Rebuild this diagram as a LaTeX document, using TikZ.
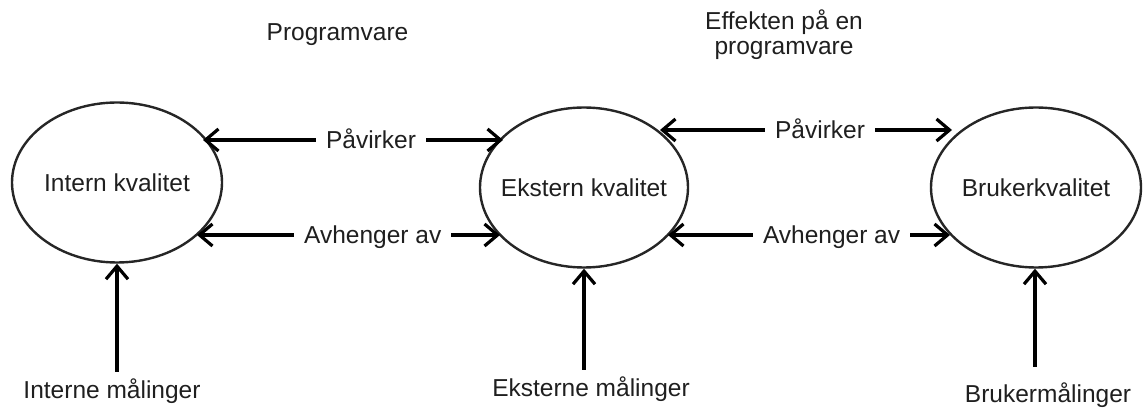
\documentclass[tikz,border=0pt]{standalone}
\usepackage{fontspec}
\setmainfont{Liberation Sans}
\usetikzlibrary{arrows.meta,shapes.geometric,calc}

\begin{document}
\begin{tikzpicture}[x=1pt,y=1pt,
  >={Straight Barb[length=13pt,width=22pt]},
  txt/.style={font=\fontsize{24.5}{25}\selectfont, text=black!88},
  quality/.style={ellipse, draw=black!85, line width=2.4pt, inner sep=0pt,
                  minimum width=#1, minimum height=160pt, txt},
  quality/.default=210pt,
  link/.style={line width=3.2pt, draw=black, <->},
  measure/.style={line width=3.2pt, draw=black, ->},
  tag/.style={txt, fill=white, inner xsep=10pt, inner ysep=0pt,
              text height=17.5pt, text depth=0pt},
]
\useasboundingbox (0,0) rectangle (1146,407);

% the three kinds of quality
\node[quality=210pt, label={[txt]center:Intern kvalitet}]  (e1) at (117,224.5) {};
\node[quality=208pt, label={[txt]center:Ekstern kvalitet}] (e2) at (584,219.5) {};
\node[quality=210pt, label={[txt]center:Brukerkvalitet}]   (e3) at (1036,219.5) {};

% headings
\node[txt] (h1) at (337.5,372) {Programvare};
\node[txt, align=center] (h2) at (784,372) {Effekten på en\\programvare};

% relations between neighbouring qualities
\draw[link] ($(e1.center)+(86,42.5)$)  -- ($(e2.center)+(-81,47.5)$)
  node[tag, pos=0.56] (r1) {Påvirker};
\draw[link] ($(e1.center)+(80,-52.5)$) -- ($(e2.center)+(-84,-47.5)$)
  node[tag, pos=0.58] (r2) {Avhenger av};
\draw[link] ($(e2.center)+(76,57.5)$)  -- ($(e3.center)+(-84,57.5)$)
  node[tag, pos=0.548] (r3) {Påvirker};
\draw[link] ($(e2.center)+(84,-47.5)$) -- ($(e3.center)+(-86,-47.5)$)
  node[tag, pos=0.58] (r4) {Avhenger av};

% measurements feeding each quality
\node[txt, anchor=base] (m1) at (112,9)  {Interne målinger};
\node[txt, anchor=base] (m2) at (591,10) {Eksterne målinger};
\node[txt, anchor=base] (m3) at (1048,5) {Brukermålinger};

\coordinate (s1) at (117,35);
\coordinate (s2) at (584,37);
\coordinate (s3) at (1035,40);
\draw[measure] (s1) -- (s1 |- e1.south);
\draw[measure] (s2) -- (s2 |- e2.south);
\draw[measure] (s3) -- (s3 |- e3.south);
\end{tikzpicture}
\end{document}
